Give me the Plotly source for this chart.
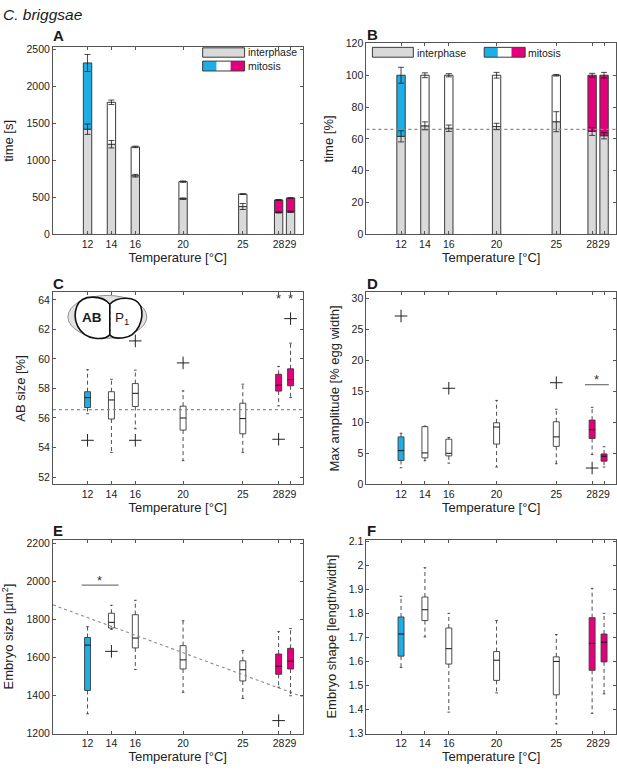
import plotly.graph_objects as go

W, H = 617, 772

# ---- data -------------------------------------------------------------
temps = [12, 14, 16, 20, 25, 28, 29]

# A: absolute duration [s]
interphase_s = [1420, 1217, 792, 482, 376, 296, 305]
interphase_s_err = [70, 50, 18, 10, 40, 8, 8]
total_s = [2314, 1783, 1181, 712, 544, 465, 491]
total_s_err = [115, 30, 10, 9, 5, 5, 5]

# B: relative duration [%]
interphase_pct = [61.6, 68.2, 66.7, 67.8, 70.8, 64.7, 62.0]
interphase_pct_err = [3.5, 2.5, 2.0, 2.0, 6.3, 2.5, 2.0]
total_pct = [100, 100, 100, 100, 100, 100, 100]
total_pct_err = [5.0, 1.5, 1.0, 1.8, 0.5, 1.2, 1.8]
ref_pct = 66.0

# C: AB size [%]  (q1, median, q3, lower whisker, upper whisker)
ab_q1 = [56.71, 55.93, 56.78, 55.18, 54.93, 57.82, 58.18]
ab_med = [57.38, 57.22, 57.67, 56.00, 55.96, 58.22, 58.60]
ab_q3 = [57.78, 57.78, 58.33, 56.80, 57.00, 58.96, 59.33]
ab_lo = [56.29, 53.67, 55.27, 53.11, 53.67, 56.82, 57.38]
ab_hi = [59.27, 58.62, 59.24, 57.84, 58.29, 59.49, 61.07]
ab_out_t = [12, 16, 16, 20, 28, 29]
ab_out_v = [54.49, 54.49, 61.22, 59.73, 54.56, 62.73]
ab_star_t = [28, 29]
ab_star_v = [64.1, 64.1]
ab_ref = 56.57

# D: max amplitude [% egg width]
amp_q1 = [3.87, 4.29, 4.61, 6.52, 6.15, 7.42, 3.76]
amp_med = [5.46, 5.09, 5.03, 9.27, 7.68, 8.85, 4.56]
amp_q3 = [7.68, 9.33, 7.31, 9.96, 10.12, 10.39, 4.93]
amp_lo = [2.70, 3.82, 3.44, 2.81, 3.34, 4.82, 2.81]
amp_hi = [8.27, 9.43, 7.58, 13.57, 12.14, 12.45, 6.09]
amp_out_t = [12, 16, 25, 28]
amp_out_v = [27.2, 15.53, 16.43, 2.65]
amp_sig_t = [27.4, 29.4]
amp_sig_v = [16.1, 16.1]
amp_star_t = [28.4]
amp_star_v = [16.9]

# E: embryo size [um^2]
size_q1 = [1427, 1756, 1651, 1540, 1477, 1512, 1540]
size_med = [1666, 1786, 1703, 1588, 1536, 1555, 1581]
size_q3 = [1706, 1834, 1826, 1663, 1583, 1619, 1649]
size_lo = [1304, 1749, 1537, 1417, 1385, 1444, 1399]
size_hi = [1763, 1876, 1902, 1794, 1637, 1737, 1753]
size_out_t = [14, 28]
size_out_v = [1633, 1268]
size_sig_t = [11.5, 14.6]
size_sig_v = [1982, 1982]
size_star_t = [13.0]
size_star_v = [2005]
size_trend_t = [9.1, 30.0]
size_trend_v = [1878, 1394]

# F: embryo shape [length/width]
shape_q1 = [1.622, 1.770, 1.589, 1.521, 1.461, 1.563, 1.598]
shape_med = [1.714, 1.815, 1.653, 1.605, 1.600, 1.675, 1.680]
shape_q3 = [1.785, 1.868, 1.739, 1.641, 1.619, 1.782, 1.714]
shape_lo = [1.575, 1.702, 1.389, 1.469, 1.340, 1.384, 1.465]
shape_hi = [1.871, 1.990, 1.800, 1.770, 1.712, 1.904, 1.800]

# ---- style ------------------------------------------------------------
BLUE = "#1eaee6"
MAGENTA = "#e4007c"
GREY = "#d9d9d9"
EDGE = "#3a3a3a"
AXIS = "#555555"
FONT = "Liberation Sans, Arial, sans-serif"
fill_colors = [BLUE, "white", "white", "white", "white", MAGENTA, MAGENTA]
BAR_W = 0.7
BOX_W = 0.5
CAP = 0.11


def pX(x):
    return x / W


def pY(y):
    return 1 - y / H


fig = go.Figure()
annotations = []

# panel boxes in pixels: (x0, x1), (top, bottom)
panels = [
    ((53, 303), (42, 232)),
    ((367, 617), (38, 232)),
    ((53, 303), (291, 486)),
    ((367, 617), (291, 486)),
    ((53, 303), (542, 739)),
    ((367, 617), (542, 739)),
]


def refs(i):
    return ("x", "y") if i == 0 else (f"x{i + 1}", f"y{i + 1}")


def bar_panel(i, inter, inter_err, total, total_err):
    xa, ya = refs(i)
    fig.add_trace(go.Bar(
        x=temps, y=inter, width=BAR_W, xaxis=xa, yaxis=ya,
        marker=dict(color=GREY, line=dict(color=EDGE, width=1)),
    ))
    fig.add_trace(go.Bar(
        x=temps, y=[t - v for t, v in zip(total, inter)], base=inter,
        width=BAR_W, xaxis=xa, yaxis=ya,
        marker=dict(color=fill_colors, line=dict(color=EDGE, width=1)),
    ))
    for yy, ee in ((inter, inter_err), (total, total_err)):
        fig.add_trace(go.Scatter(
            x=temps, y=yy, mode="markers", xaxis=xa, yaxis=ya,
            marker=dict(size=1, color="rgba(0,0,0,0)"),
            error_y=dict(type="data", array=ee, color="#1a1a1a",
                         thickness=0.8, width=3),
        ))


def box_panel(i, q1, med, q3, lo, hi, out_t=(), out_v=()):
    xa, ya = refs(i)
    fig.add_trace(go.Bar(
        x=temps, y=[b - a for a, b in zip(q1, q3)], base=q1, width=BOX_W,
        xaxis=xa, yaxis=ya,
        marker=dict(color=fill_colors, line=dict(color=EDGE, width=0.9)),
    ))
    wx, wy, cx, cy, mx, my = [], [], [], [], [], []
    for t, a, m, b, l, h in zip(temps, q1, med, q3, lo, hi):
        wx += [t, t, None, t, t, None]
        wy += [b, h, None, a, l, None]
        cx += [t - CAP, t + CAP, None, t - CAP, t + CAP, None]
        cy += [h, h, None, l, l, None]
        mx += [t - BOX_W / 2, t + BOX_W / 2, None]
        my += [m, m, None]
    fig.add_trace(go.Scatter(x=wx, y=wy, mode="lines", xaxis=xa, yaxis=ya,
                             line=dict(color=EDGE, width=0.9, dash="4px,3px")))
    fig.add_trace(go.Scatter(x=cx, y=cy, mode="lines", xaxis=xa, yaxis=ya,
                             line=dict(color=EDGE, width=0.9)))
    fig.add_trace(go.Scatter(x=mx, y=my, mode="lines", xaxis=xa, yaxis=ya,
                             line=dict(color="#111111", width=1)))
    if len(out_t):
        fig.add_trace(go.Scatter(
            x=list(out_t), y=list(out_v), mode="markers", xaxis=xa, yaxis=ya,
            marker=dict(symbol="cross-thin", size=9,
                        line=dict(color="#222222", width=1)),
        ))


def dotted(i, xs, ys):
    xa, ya = refs(i)
    fig.add_trace(go.Scatter(x=xs, y=ys, mode="lines", xaxis=xa, yaxis=ya,
                             line=dict(color="#8a8a8a", width=1.1, dash="dot")))


def stars(i, xs, ys):
    xa, ya = refs(i)
    for x, y in zip(xs, ys):
        annotations.append(dict(x=x, y=y, xref=xa, yref=ya, text="*",
                                showarrow=False, xanchor="center",
                                yanchor="middle",
                                font=dict(size=13, color="#333333", family=FONT)))


# A, B
bar_panel(0, interphase_s, interphase_s_err, total_s, total_s_err)
dotted(1, [9.1, 30], [ref_pct, ref_pct])
bar_panel(1, interphase_pct, interphase_pct_err, total_pct, total_pct_err)

# C
dotted(2, [9.1, 30], [ab_ref, ab_ref])
box_panel(2, ab_q1, ab_med, ab_q3, ab_lo, ab_hi, ab_out_t, ab_out_v)
stars(2, ab_star_t, ab_star_v)

# D
box_panel(3, amp_q1, amp_med, amp_q3, amp_lo, amp_hi, amp_out_t, amp_out_v)
fig.add_trace(go.Scatter(x=amp_sig_t, y=amp_sig_v, mode="lines", xaxis="x4",
                         yaxis="y4", line=dict(color="#555555", width=1)))
stars(3, amp_star_t, amp_star_v)

# E
dotted(4, size_trend_t, size_trend_v)
box_panel(4, size_q1, size_med, size_q3, size_lo, size_hi, size_out_t, size_out_v)
fig.add_trace(go.Scatter(x=size_sig_t, y=size_sig_v, mode="lines", xaxis="x5",
                         yaxis="y5", line=dict(color="#555555", width=1)))
stars(4, size_star_t, size_star_v)

# F
box_panel(5, shape_q1, shape_med, shape_q3, shape_lo, shape_hi)

# ---- axes -------------------------------------------------------------
y_specs = [
    ("time [s]", [0, 2525], [0, 500, 1000, 1500, 2000, 2500], None),
    ("time [%]", [0, 120], [0, 20, 40, 60, 80, 100, 120], None),
    ("AB size [%]", [51.5, 64.5], [52, 54, 56, 58, 60, 62, 64], None),
    ("Max amplitude [% egg width]", [0, 31], [0, 5, 10, 15, 20, 25, 30], None),
    ("Embryo size [µm<sup>2</sup>]", [1200, 2222],
     [1200, 1400, 1600, 1800, 2000, 2200], None),
    ("Embryo shape [length/width]", [1.3, 2.107],
     [1.3, 1.4, 1.5, 1.6, 1.7, 1.8, 1.9, 2.0, 2.1],
     ["1.3", "1.4", "1.5", "1.6", "1.7", "1.8", "1.9", "2", "2.1"]),
]

common = dict(
    showline=True, linecolor=AXIS, linewidth=1, mirror="ticks",
    ticks="inside", ticklen=3, tickcolor=AXIS, tickwidth=1,
    showgrid=False, zeroline=False, tickangle=0,
    tickfont=dict(size=10.5, color="#222222", family=FONT),
)

layout = {}
for i, ((x0, x1), (top, bot)) in enumerate(panels):
    sfx = "" if i == 0 else str(i + 1)
    title, yr, yt, ytt = y_specs[i]
    layout[f"xaxis{sfx}"] = dict(
        common, domain=[pX(x0), min(pX(x1), 1)], range=[9.1, 30],
        anchor=f"y{sfx}", tickvals=temps, ticktext=[str(t) for t in temps],
        title=dict(text="Temperature [°C]", standoff=1,
                   font=dict(size=13, color="#222222", family=FONT)),
    )
    layout[f"yaxis{sfx}"] = dict(
        common, domain=[pY(bot), pY(top)], range=yr, anchor=f"x{sfx}",
        tickvals=yt, ticktext=ytt if ytt else [str(v) for v in yt],
        title=dict(text=title, standoff=9,
                   font=dict(size=13, color="#222222", family=FONT)),
    )

# ---- legend swatches, embryo sketch, labels ---------------------------
shapes = []


def rect(x0, y0, x1, y1, color, line=True):
    shapes.append(dict(type="rect", xref="paper", yref="paper",
                       x0=pX(x0), x1=pX(x1), y0=pY(y1), y1=pY(y0),
                       fillcolor=color,
                       line=dict(color=EDGE if line else color,
                                 width=1 if line else 0)))


def tri(x0, y0, x1, y1):
    s = (x1 - x0) / 3
    rect(x0, y0, x0 + s, y1, BLUE, False)
    rect(x0 + s, y0, x0 + 2 * s, y1, "white", False)
    rect(x0 + 2 * s, y0, x1, y1, MAGENTA, False)
    rect(x0, y0, x1, y1, "rgba(0,0,0,0)")


rect(203, 42.5, 245, 52, GREY)
tri(203, 56, 245, 66)
rect(373, 42, 414, 52, GREY)
tri(485, 42, 526, 52)


def ppath(cmds):
    out = []
    for c in cmds:
        out.append(c if isinstance(c, str) else f"{pX(c[0]):.5f},{pY(c[1]):.5f}")
    return " ".join(out)


shapes.append(dict(type="circle", xref="paper", yref="paper",
                   x0=pX(68), x1=pX(147), y0=pY(337.5), y1=pY(294),
                   fillcolor="#e2e2e2", line=dict(color="#777777", width=0.8)))
ab_cell = ppath(["M", (110, 303), "C", (103, 294), (82, 292), (77, 305),
                 "C", (72, 318), (78, 335), (95, 337.5),
                 "C", (102, 338.5), (107, 337), (110, 334), "Z"])
p1_cell = ppath(["M", (110, 303), "C", (117, 295), (136, 294), (141, 305),
                 "C", (145, 318), (138, 335), (124, 337),
                 "C", (117, 338), (112, 337), (110, 334), "Z"])
for p in (ab_cell, p1_cell):
    shapes.append(dict(type="path", xref="paper", yref="paper", path=p,
                       fillcolor="white", line=dict(color="#111111", width=1.6)))
shapes.append(dict(type="line", xref="paper", yref="paper",
                   x0=pX(110), x1=pX(110), y0=pY(304), y1=pY(333),
                   line=dict(color="#111111", width=1, dash="dot")))


def label(x, y, text, size=10.5, bold=False, italic=False, anchor="left"):
    t = text
    if bold:
        t = f"<b>{t}</b>"
    if italic:
        t = f"<i>{t}</i>"
    annotations.append(dict(x=pX(x), y=pY(y), xref="paper", yref="paper",
                            text=t, showarrow=False, xanchor=anchor,
                            yanchor="middle",
                            font=dict(size=size, color="#1a1a1a", family=FONT)))


label(1, 9, "C. briggsae", size=15.5, italic=True)
label(51, 30, "A", size=15, bold=True)
label(366, 29, "B", size=15, bold=True)
label(51, 282, "C", size=15, bold=True)
label(366, 282, "D", size=15, bold=True)
label(51, 533, "E", size=15, bold=True)
label(366, 533, "F", size=15, bold=True)
label(246, 47, "interphase")
label(246, 61, "mitosis")
label(416, 47.5, "interphase")
label(527, 47.5, "mitosis")
label(92, 316, "AB", size=13.5, bold=True, anchor="center")
label(122, 317, "P<sub>1</sub>", size=13.5, anchor="center")

fig.update_layout(
    width=W, height=H,
    margin=dict(l=0, r=0, t=0, b=0),
    paper_bgcolor="white", plot_bgcolor="white",
    showlegend=False, barmode="overlay",
    font=dict(family=FONT, color="#222222"),
    shapes=shapes, annotations=annotations,
    **layout,
)

# the page body has a default margin that would shift the figure
fig.write_html("out.html", config={"displayModeBar": False},
               post_script="document.body.style.margin='0';"
                           "document.body.style.overflow='hidden';")
